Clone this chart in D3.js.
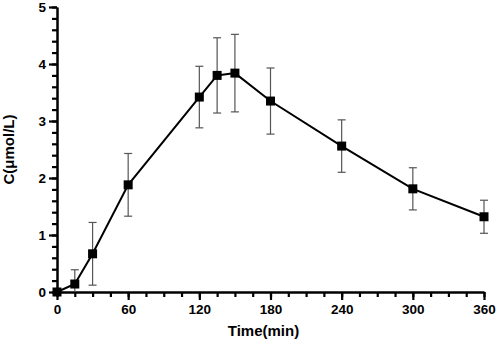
<!DOCTYPE html>
<html>
<head>
    <script src="https://d3js.org/d3.v7.min.js"></script>
    <style>
        body { margin: 0; background: #fff; font-family: Arial, "Liberation Sans", sans-serif; }
        .tick text { font-weight: bold; font-size: 13.5px; fill: #000; font-family: Arial, "Liberation Sans", sans-serif; }
        .axis-title { font-weight: bold; font-size: 15px; }
    </style>
</head>
<body>
    <div id="chart"></div>
    <script>
        const times = [0, 15, 30, 60, 120, 135, 150, 180, 240, 300, 360];
        const conc  = [0, 0.14, 0.67, 1.88, 3.42, 3.80, 3.84, 3.35, 2.56, 1.81, 1.32];
        const sd    = [0, 0.25, 0.55, 0.55, 0.54, 0.66, 0.68, 0.58, 0.46, 0.37, 0.29];
        const xTicks = [0, 60, 120, 180, 240, 300, 360];
        const yTicks = [0, 1, 2, 3, 4, 5];
        const xMinor = d3.range(0, 361, 15);
        const yMinor = d3.range(0, 26).map(i => i / 5);

        const data = times.map((t, i) => ({ t: t, c: conc[i], sd: sd[i] }));

        const margin = { top: 7, right: 14, bottom: 51, left: 57 },
              width = 498 - margin.left - margin.right,
              height = 343 - margin.top - margin.bottom;

        const svg = d3.select("#chart")
                      .append("svg")
                      .attr("width", 498)
                      .attr("height", 343)
                      .append("g")
                      .attr("transform", `translate(${margin.left},${margin.top})`);

        const x = d3.scaleLinear().domain([0, 360]).range([0, width]);
        const y = d3.scaleLinear().domain([0, 5]).range([height, 0]);

        // minor ticks
        svg.append("g")
           .attr("transform", `translate(0,${height})`)
           .call(d3.axisBottom(x).tickValues(xMinor).tickSize(5).tickSizeOuter(0).tickFormat(() => ""))
           .call(g => g.selectAll(".tick line").attr("stroke-width", 2.2));
        svg.append("g")
           .call(d3.axisLeft(y).tickValues(yMinor).tickSize(5).tickSizeOuter(0).tickFormat(() => ""))
           .call(g => g.selectAll(".tick line").attr("stroke-width", 2.2));

        const xAxis = svg.append("g")
           .attr("transform", `translate(0,${height})`)
           .call(d3.axisBottom(x).tickValues(xTicks).tickSize(8).tickSizeOuter(0).tickPadding(4).tickFormat(d3.format("d")));
        xAxis.select(".domain").attr("stroke-width", 2.5);
        xAxis.selectAll(".tick line").attr("stroke-width", 2.2);

        const yAxis = svg.append("g")
           .call(d3.axisLeft(y).tickValues(yTicks).tickSize(8).tickSizeOuter(0).tickPadding(3).tickFormat(d3.format("d")));
        yAxis.select(".domain").attr("stroke-width", 2.5);
        yAxis.selectAll(".tick line").attr("stroke-width", 2.2);

        // error bars
        const eb = svg.append("g").attr("stroke", "#555").attr("stroke-width", 1.2);
        data.filter(d => d.sd > 0).forEach(d => {
            const lo = Math.max(0, d.c - d.sd), hi = d.c + d.sd;
            eb.append("line").attr("x1", x(d.t)).attr("x2", x(d.t)).attr("y1", y(lo)).attr("y2", y(hi));
            eb.append("line").attr("x1", x(d.t) - 4).attr("x2", x(d.t) + 4).attr("y1", y(hi)).attr("y2", y(hi));
            if (d.c - d.sd > 0)
                eb.append("line").attr("x1", x(d.t) - 4).attr("x2", x(d.t) + 4).attr("y1", y(lo)).attr("y2", y(lo));
        });

        const line = d3.line().x(d => x(d.t)).y(d => y(d.c));
        svg.append("path")
           .datum(data)
           .attr("fill", "none")
           .attr("stroke", "#000")
           .attr("stroke-width", 2)
           .attr("d", line);

        svg.selectAll(".pt")
           .data(data)
           .enter()
           .append("rect")
           .attr("x", d => x(d.t) - 4.5)
           .attr("y", d => y(d.c) - 4.5)
           .attr("width", 9)
           .attr("height", 9)
           .attr("fill", "#000");

        svg.append("text")
           .attr("class", "axis-title")
           .attr("x", width / 2 - 7)
           .attr("y", height + 44)
           .attr("text-anchor", "middle")
           .text("Time(min)");

        svg.append("text")
           .attr("class", "axis-title")
           .attr("transform", `translate(-43,${height / 2})rotate(-90)`)
           .attr("text-anchor", "middle")
           .text("C(μmol/L)");
    </script>
</body>
</html>
